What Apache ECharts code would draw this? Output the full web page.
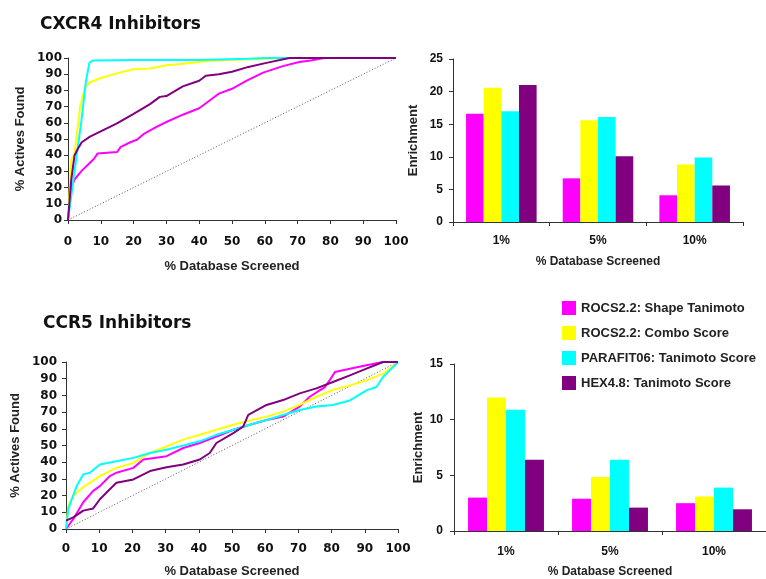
<!DOCTYPE html>
<html>
<head>
<meta charset="utf-8">
<script src="https://cdn.jsdelivr.net/npm/echarts@6/dist/echarts.min.js"></script>
<style>
  html, body { margin: 0; padding: 0; background: #fff; }
  #chart { width: 766px; height: 579px; }
</style>
</head>
<body>
<div id="chart"></div>
<script>
var methods = ['ROCS2.2: Shape Tanimoto', 'ROCS2.2: Combo Score', 'PARAFIT06: Tanimoto Score', 'HEX4.8: Tanimoto Score'];
var colors = ['#ff00ff', '#ffff00', '#00ffff', '#800080'];
var cutoffs = ['1%', '5%', '10%'];

// CXCR4 enrichment curves: [% database screened, % actives found]
var cxcr4Shape = [[0,0],[1,20],[2,25],[4,30],[6,34],[8,38],[9,41],[12,41.5],[15,42],[16,45],[19,48],[21,49.5],[23,53],[27,57.5],[30,60.5],[35,65],[40,69],[44,75],[46,78],[50,81],[54.5,86],[59.5,91],[65.5,95],[70.5,97.5],[74,98.5],[78,100],[100,100]];
var cxcr4Combo = [[0,0],[1,37],[2,41],[3.7,70],[5.2,82],[6.7,85],[9.8,87.5],[14.8,90.5],[20,93],[25,93.5],[30,95.5],[35,96.5],[40,97.5],[45,98.5],[60,99.5],[69,100],[100,100]];
var cxcr4Parafit = [[0,0],[2,30],[4,60],[5.5,86],[6.5,97],[7.5,98.5],[20,98.7],[40,98.8],[55,99.5],[60,100],[100,100]];
var cxcr4Hex = [[0,0],[1,25],[2,40],[3,44],[4.2,48],[6.7,51.5],[9.8,54.5],[14.8,59.5],[20,65.5],[25,71.5],[28,76],[30,76.5],[35,82.5],[40,86],[42,89],[46,90],[50,91.5],[55,94.5],[60.5,97],[67.5,100],[100,100]];

// CCR5 enrichment curves
var ccr5Shape = [[0,0],[2.2,6],[5.2,16],[8.2,22.8],[10.2,25.7],[13.2,31.7],[15.2,33.7],[20.3,36.6],[23.3,41.6],[30.3,43.6],[35.3,48.5],[40.3,51.5],[45.3,55.4],[50.4,59.4],[55.4,62.4],[60.4,65.3],[65.4,67.3],[70.4,73.3],[73.4,79.2],[76.4,83],[78,85],[79.4,89],[81,94],[85.5,96],[90.5,98],[95.5,100],[100,100]];
var ccr5Combo = [[0,0],[0.7,14],[2.2,20],[5.2,25],[10.2,31.7],[15.2,36.6],[20.3,39.6],[25.3,45.5],[30.3,49.5],[35.3,53.5],[40.3,56.4],[45.3,59.4],[50.4,62.4],[55.4,65],[60.4,67.3],[65.4,70.3],[70.4,74.3],[75.4,79.2],[80.4,83.2],[85.5,86],[90.5,89],[95.5,93],[100,100]];
var ccr5Parafit = [[0,0],[0.7,12],[3.2,25.7],[5.2,32.7],[7.2,33.7],[10.2,38.6],[15.2,40.6],[20.3,42.6],[25.3,45.5],[30.3,47.5],[35.3,50],[40.3,52.5],[45.3,56.4],[50.4,59.4],[55.4,62.4],[60.4,65.3],[65.4,68.3],[70.4,71.3],[75.4,73.3],[80.4,74.3],[85.5,77],[90.5,83],[93.5,85],[95.5,91],[97.5,95],[100,100]];
var ccr5Hex = [[0,5],[2.2,7],[5.2,11],[8.2,12.3],[10.2,17.8],[13.2,23.8],[15.2,27.7],[20.3,29.7],[25.3,34.7],[30.3,37],[35.3,38.6],[40.3,41.6],[43.3,45.5],[45.3,51.5],[50.4,57.4],[53.4,61.4],[54.9,68.3],[60.4,74.3],[65.4,77.2],[70.4,81.2],[75.4,84.2],[80.4,88],[85.5,92],[90.5,96],[95.5,100],[100,100]];
var diagonal = [[0,0],[100,100]];

// enrichment factors at 1%, 5%, 10%
var cxcr4Enrich = [
  [16.6, 6.7, 4.1],
  [20.6, 15.6, 8.8],
  [17.0, 16.1, 9.9],
  [21.0, 10.1, 5.6]
];
var ccr5Enrich = [
  [3.0, 2.9, 2.5],
  [12.0, 4.85, 3.1],
  [10.9, 6.4, 3.9],
  [6.4, 2.1, 1.95]
];

var pctTicks = 10;

var chart = echarts.init(document.getElementById('chart'));

var tickFont = { fontFamily: 'DejaVu Sans', fontWeight: 'bold', fontSize: 12, color: '#111' };
var nameFont = { fontFamily: 'Liberation Sans', fontWeight: 'bold', fontSize: 13, color: '#222' };
var axisLine = { lineStyle: { color: '#333', width: 1 } };

function pctAxis(grid, isX, labelMargin, nameGap) {
  return {
    type: 'value', gridIndex: grid, min: 0, max: 100, interval: pctTicks,
    name: isX ? '% Database Screened' : '% Actives Found',
    nameLocation: 'middle', nameGap: nameGap, nameTextStyle: nameFont,
    axisLine: { show: true, lineStyle: axisLine.lineStyle },
    axisTick: { show: true, length: 4, lineStyle: axisLine.lineStyle },
    axisLabel: Object.assign({ margin: labelMargin }, tickFont),
    splitLine: { show: false }
  };
}

function barXAxis(grid, labelMargin, nameGap) {
  return {
    type: 'category', gridIndex: grid, data: cutoffs,
    name: '% Database Screened', nameLocation: 'middle', nameGap: nameGap,
    nameTextStyle: Object.assign({}, nameFont, { fontSize: 12 }),
    axisLine: axisLine,
    axisTick: { show: true, length: 4, lineStyle: axisLine.lineStyle },
    axisLabel: { margin: labelMargin, fontFamily: 'Liberation Sans', fontWeight: 'bold', fontSize: 12, color: '#111' }
  };
}

function barYAxis(grid, max, labelMargin, nameGap) {
  return {
    type: 'value', gridIndex: grid, min: 0, max: max, interval: 5,
    name: 'Enrichment', nameLocation: 'middle', nameGap: nameGap,
    nameTextStyle: nameFont,
    axisLine: { show: true, lineStyle: axisLine.lineStyle },
    axisTick: { show: true, length: 4, lineStyle: axisLine.lineStyle },
    axisLabel: { margin: labelMargin, fontFamily: 'Liberation Sans', fontWeight: 'bold', fontSize: 12, color: '#111' },
    splitLine: { show: false }
  };
}

var curves = [
  [cxcr4Shape, cxcr4Combo, cxcr4Parafit, cxcr4Hex],
  [ccr5Shape, ccr5Combo, ccr5Parafit, ccr5Hex]
];
var enrich = [cxcr4Enrich, ccr5Enrich];

var series = [];
[0, 1].forEach(function (p) {
  var lineGrid = p * 2;
  var barGrid = p * 2 + 1;
  series.push({
    type: 'line', name: 'random', xAxisIndex: lineGrid, yAxisIndex: lineGrid,
    data: diagonal, showSymbol: false, silent: true,
    lineStyle: { color: '#555', width: 1, type: [1, 2] }
  });
  for (var i = 0; i < methods.length; i++) {
    series.push({
      type: 'line', name: methods[i], xAxisIndex: lineGrid, yAxisIndex: lineGrid,
      data: curves[p][i], showSymbol: false,
      itemStyle: { color: colors[i] },
      lineStyle: { color: colors[i], width: 2 }
    });
  }
  for (var j = 0; j < methods.length; j++) {
    series.push({
      type: 'bar', name: methods[j], xAxisIndex: barGrid, yAxisIndex: barGrid,
      data: enrich[p][j], barGap: '0%', barCategoryGap: '27%',
      itemStyle: { color: colors[j] }
    });
  }
});

var option = {
  animation: false,
  backgroundColor: '#fff',
  title: [
    { text: 'CXCR4 Inhibitors', left: 35, top: 11, textStyle: { fontFamily: 'DejaVu Sans', fontWeight: 'bold', fontSize: 17, color: '#111' } },
    { text: 'CCR5 Inhibitors', left: 38, top: 310, textStyle: { fontFamily: 'DejaVu Sans', fontWeight: 'bold', fontSize: 17, color: '#111' } }
  ],
  legend: {
    data: methods, orient: 'vertical', left: 557, top: 296,
    icon: 'rect', itemWidth: 14, itemHeight: 14, itemGap: 11,
    textStyle: { fontFamily: 'Liberation Sans', fontWeight: 'bold', fontSize: 13, color: '#222' }
  },
  grid: [
    { left: 68, top: 58, width: 328, height: 162 },
    { left: 453, top: 59, width: 290, height: 163 },
    { left: 66, top: 362, width: 332, height: 168 },
    { left: 454, top: 364, width: 312, height: 167 }
  ],
  xAxis: [
    pctAxis(0, true, 16, 40),
    barXAxis(1, 13, 34),
    pctAxis(2, true, 14, 36),
    barXAxis(3, 15, 35)
  ],
  yAxis: [
    pctAxis(0, false, 6, 41),
    barYAxis(1, 25, 10, 33),
    pctAxis(2, false, 9, 44),
    barYAxis(3, 15, 11, 29)
  ],
  series: series
};

chart.setOption(option);
</script>
</body>
</html>
